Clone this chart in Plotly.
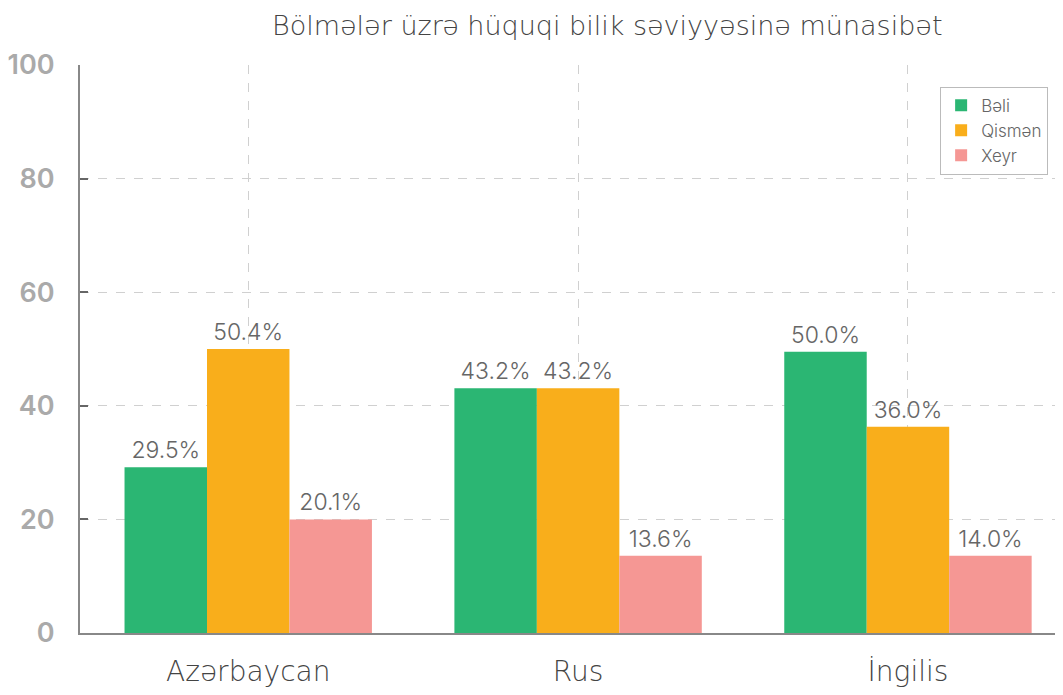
import plotly.graph_objects as go

categories = ["Azərbaycan", "Rus", "İngilis"]
series_names = ["Bəli", "Qismən", "Xeyr"]
beli = [29.2, 43.1, 49.5]
qismen = [50.0, 43.1, 36.3]
xeyr = [20.0, 13.6, 13.6]
beli_labels = ["29.5%", "43.2%", "50.0%"]
qismen_labels = ["50.4%", "43.2%", "36.0%"]
xeyr_labels = ["20.1%", "13.6%", "14.0%"]
colors = ["#2bb673", "#f9ae1b", "#f59794"]
y_ticks = [0, 20, 40, 60, 80, 100]

FONT = "Inter"
WIDE = "DejaVu Sans"
fig = go.Figure()
for name, vals, labs, col in zip(series_names, [beli, qismen, xeyr],
                                 [beli_labels, qismen_labels, xeyr_labels], colors):
    fig.add_trace(go.Bar(
        x=categories, y=vals, name=name, marker=dict(color=col, line=dict(width=0)),
        text=labs, textposition="outside", cliponaxis=False,
        textfont=dict(family=FONT, size=23, color="#666666", weight=300),
    ))

fig.update_layout(
    width=1055, height=687,
    margin=dict(l=72, r=0, t=57, b=62),
    plot_bgcolor="white", paper_bgcolor="white",
    barmode="group", bargap=0.25, bargroupgap=0,
    title=dict(text="Bölmələr üzrə hüquqi bilik səviyyəsinə münasibət",
               x=0.568, xanchor="center", y=0.975, yanchor="middle",
               font=dict(family=WIDE, size=27, color="#444444", weight=200)),
    legend=dict(x=0.875, y=0.962, xanchor="left", yanchor="top",
                bgcolor="white", bordercolor="#bbbbbb", borderwidth=1,
                font=dict(family=FONT, size=17, color="#666666", weight=300),
                itemsizing="constant", tracegroupgap=0),
    showlegend=True,
)
fig.update_xaxes(
    range=[-0.51, 2.47], showline=True, linecolor="#888888", linewidth=2,
    showgrid=True, gridcolor="#d0d0d0", griddash="dash", gridwidth=1,
    tickfont=dict(family=WIDE, size=28, color="#444444", weight=200), ticks="",
    layer="above traces", ticklabelstandoff=12, automargin=False,
)
fig.update_yaxes(
    range=[0, 100], tickvals=y_ticks, showline=True, linecolor="#888888", linewidth=2,
    showgrid=True, gridcolor="#d0d0d0", griddash="dash", gridwidth=1,
    ticks="inside", ticklen=8, tickwidth=2, tickcolor="#666666",
    tickfont=dict(family=FONT, size=27, color="#aaaaaa", weight=600),
    layer="above traces", zeroline=False, ticklabelstandoff=18, automargin=False,
)
fig.write_html("out.html")
